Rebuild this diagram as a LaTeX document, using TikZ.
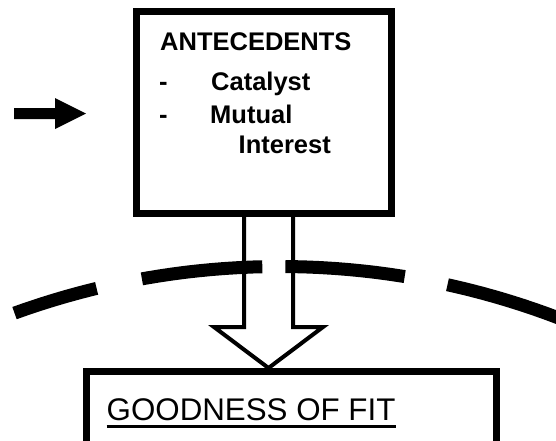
\documentclass[tikz,border=0pt]{standalone}
\usepackage{fontspec}
\setmainfont{Liberation Sans}
\begin{document}
\begin{tikzpicture}[x=1pt,y=-1pt,line join=miter,
    box/.style={draw,line width=7pt,inner sep=0pt},
    txt/.style={anchor=base west,inner sep=0pt,font=\fontsize{25.5}{30}\selectfont\bfseries},
    hollow/.style={draw,line width=4pt}]
  \useasboundingbox (0,0) rectangle (556,440);
  \clip (0,0) rectangle (556,440);
  % boxes
  \node[box,minimum width=255pt,minimum height=202pt] (ante) at (264,112.5) {};
  \node[box,minimum width=410pt,minimum height=200pt] (fit) at (291,471.5) {};
  % texts
  \node[txt] (ante title) at (160,50) {ANTECEDENTS};
  \node[txt] (dash a) at (159,90) {-};
  \node[txt] (cat) at (211,90) {Catalyst};
  \node[txt] (dash b) at (159,123) {-};
  \node[txt] (mut) at (210,123) {Mutual};
  \node[txt] (int) at (238.5,153) {Interest};
  \node[txt,font=\fontsize{31.3}{36}\selectfont] (gof) at (106.5,420) {GOODNESS OF FIT};
  \draw[line width=2.5pt] ([yshift=-6.5pt]gof.base west) -- ([yshift=-6.5pt]gof.base east);
  % incoming arrow
  \coordinate (feed) at (14,113.5);
  \fill (feed) ++(0,-5.5) -- ++(41,0) -- ++(0,-10) -- ++(31,15.5) -- ++(-31,15.5)
    -- ++(0,-10) -- ++(-41,0) -- cycle;
  % hollow arrow
  \draw[hollow] (ante.south) ++(-20,0) -- ++(0,110) -- ++(-30,0) -- ([xshift=-22.5pt]fit.north)
    -- ++(54.5,-41) -- ++(-30,0) -- ++(0,-110);
  % boundary arc
  \foreach \a/\b in {250.1/256.4,259.8/268.7,270.4/279.2,282.4/293}
    \draw[line width=13pt] plot[domain=\a:\b,samples=25] ({280+780*cos(\x)},{1046.5+780*sin(\x)});
\end{tikzpicture}
\end{document}
